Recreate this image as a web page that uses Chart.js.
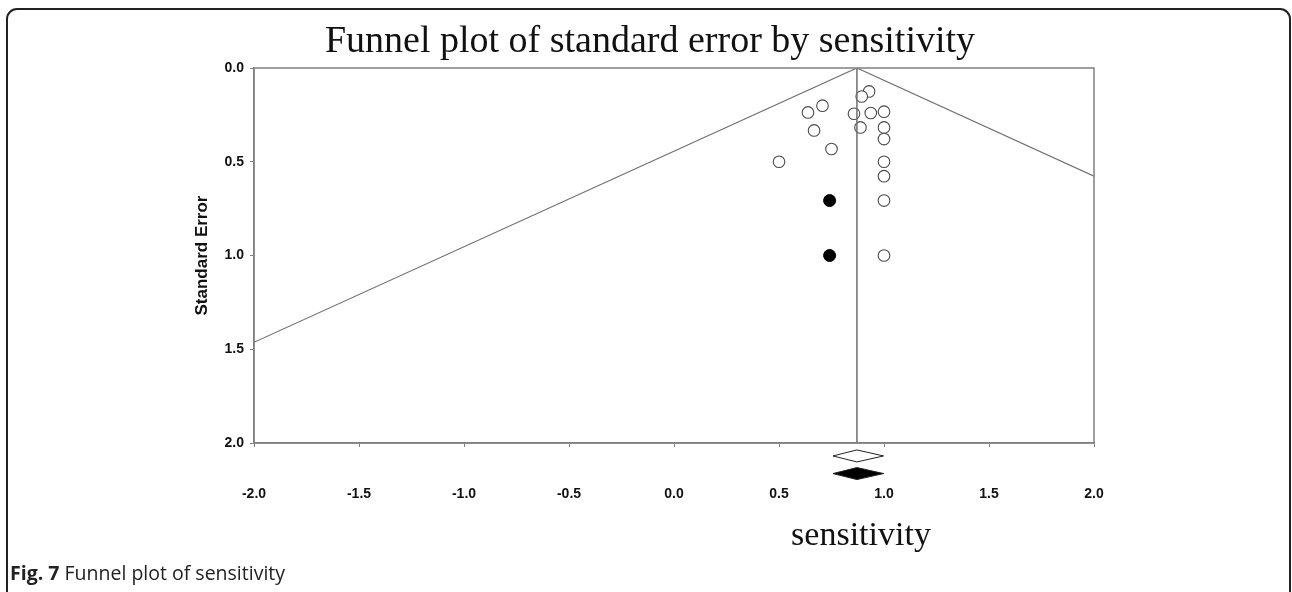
<!DOCTYPE html>
<html>
<head>
<meta charset="utf-8">
<script src="https://cdn.jsdelivr.net/npm/chart.js@4/dist/chart.umd.min.js"></script>
<style>
  body { margin: 0; background: #fff; width: 1292px; height: 592px; overflow: hidden; position: relative; }
  #frame { position: absolute; left: 6px; top: 8px; width: 1281px; height: 620px; border: 2px solid #222; border-radius: 11px; }
  #chart-box { position: absolute; left: 0; top: 0; width: 1292px; height: 592px; }
  #caption { position: absolute; left: 10px; top: 559px; font-family: "Open Sans", sans-serif; font-size: 19.5px; color: #222; white-space: nowrap; }
  #caption b { font-weight: 700; }
</style>
</head>
<body>
<div id="frame"></div>
<div id="chart-box"><canvas id="funnel" width="1292" height="592"></canvas></div>
<div id="caption"><b>Fig. 7</b> Funnel plot of sensitivity</div>
<script>
// 观测研究（空心圆）
const studyX = [0.929, 0.894, 0.707, 0.638, 0.857, 0.937, 1.0, 0.667, 0.888, 1.0, 1.0, 0.750, 0.5, 1.0, 1.0, 1.0, 1.0];
const studyY = [0.125, 0.152, 0.201, 0.237, 0.244, 0.240, 0.233, 0.333, 0.317, 0.317, 0.379, 0.432, 0.5, 0.5, 0.577, 0.707, 1.0];

// 补充研究（实心圆）
const imputedX = [0.741, 0.741];
const imputedY = [0.707, 1.0];

// 漏斗线与合并效应线
const funnelX = [-2.0, 0.871, 2.0];
const funnelY = [1.463, 0.0, 0.577];
const pooledX = [0.871, 0.871];
const pooledY = [0.0, 2.0];

// 合并效应菱形：下限、中点、上限、位置
const diamondLo = [0.757, 0.757];
const diamondMid = [0.871, 0.871];
const diamondHi = [0.998, 0.998];
const diamondY = [2.069, 2.163];
const diamondFill = ['#ffffff', '#000000'];

const xTicks = [-2.0, -1.5, -1.0, -0.5, 0.0, 0.5, 1.0, 1.5, 2.0];
const yTicks = [0.0, 0.5, 1.0, 1.5, 2.0];

const toPoints = (xs, ys) => xs.map((x, i) => ({ x, y: ys[i] }));

/**
 * 画框、标题、菱形
 */
const funnelExtras = {
  id: 'funnelExtras',
  afterDatasetsDraw(chart) {
    const { ctx, chartArea, scales } = chart;
    ctx.save();
    ctx.strokeStyle = '#808080';
    ctx.lineWidth = 1.5;
    ctx.strokeRect(chartArea.left, chartArea.top, chartArea.right - chartArea.left, chartArea.bottom - chartArea.top);

    // 菱形
    for (let i = 0; i < diamondY.length; i++) {
      const y = scales.y.getPixelForValue(diamondY[i]);
      const lo = scales.x.getPixelForValue(diamondLo[i]);
      const mid = scales.x.getPixelForValue(diamondMid[i]);
      const hi = scales.x.getPixelForValue(diamondHi[i]);
      ctx.beginPath();
      ctx.moveTo(lo, y);
      ctx.lineTo(mid, y - 6);
      ctx.lineTo(hi, y);
      ctx.lineTo(mid, y + 6);
      ctx.closePath();
      ctx.fillStyle = diamondFill[i];
      ctx.fill();
      ctx.strokeStyle = '#222';
      ctx.lineWidth = 1;
      ctx.stroke();
    }

    // 标题
    ctx.fillStyle = '#111';
    ctx.textAlign = 'center';
    ctx.textBaseline = 'alphabetic';
    ctx.font = '38px "Liberation Serif", "Times New Roman", serif';
    ctx.fillText('Funnel plot of standard error by sensitivity', 650, 52);
    ctx.font = '34px "Liberation Serif", "Times New Roman", serif';
    ctx.fillText('sensitivity', 861, 545);
    ctx.restore();
  }
};

const tickFont = { family: '"Liberation Sans", Arial, sans-serif', size: 14, weight: 'bold' };

new Chart(document.getElementById('funnel'), {
  type: 'scatter',
  data: {
    datasets: [
      {
        type: 'line',
        data: toPoints(funnelX, funnelY),
        borderColor: '#707070',
        borderWidth: 1.2,
        pointRadius: 0,
        fill: false,
        tension: 0
      },
      {
        type: 'line',
        data: toPoints(pooledX, pooledY),
        borderColor: '#707070',
        borderWidth: 1.5,
        pointRadius: 0,
        fill: false
      },
      {
        data: toPoints(studyX, studyY),
        pointRadius: 5.8,
        pointBorderWidth: 1.1,
        pointBorderColor: '#4a4a4a',
        pointBackgroundColor: '#ffffff'
      },
      {
        data: toPoints(imputedX, imputedY),
        pointRadius: 6,
        pointBorderWidth: 1,
        pointBorderColor: '#000000',
        pointBackgroundColor: '#000000'
      }
    ]
  },
  options: {
    responsive: false,
    animation: false,
    layout: { padding: { left: 190, top: 68, right: 198, bottom: 0 } },
    plugins: {
      legend: { display: false },
      tooltip: { enabled: false }
    },
    scales: {
      x: {
        type: 'linear',
        min: -2,
        max: 2,
        afterBuildTicks: (s) => { s.ticks = xTicks.map(v => ({ value: v })); },
        afterFit: (s) => { s.height = 149; },
        border: { color: '#808080', width: 1.5 },
        grid: { drawOnChartArea: false, tickLength: 4, color: '#808080' },
        ticks: {
          autoSkip: false,
          maxRotation: 0,
          padding: 39,
          color: '#111',
          font: tickFont,
          callback: (v) => Number(v).toFixed(1)
        }
      },
      y: {
        type: 'linear',
        reverse: true,
        min: 0,
        max: 2,
        afterBuildTicks: (s) => { s.ticks = yTicks.map(v => ({ value: v })); },
        afterFit: (s) => { s.width = 64; },
        border: { color: '#808080', width: 1.5 },
        grid: { drawOnChartArea: false, tickLength: 4, color: '#808080' },
        title: {
          display: true,
          text: 'Standard Error',
          color: '#111',
          font: { family: '"Liberation Sans", Arial, sans-serif', size: 17, weight: 'bold' },
          padding: { top: 2, bottom: 4 }
        },
        ticks: {
          padding: 6,
          color: '#111',
          font: tickFont,
          callback: (v) => Number(v).toFixed(1)
        }
      }
    }
  },
  plugins: [funnelExtras]
});
</script>
</body>
</html>
